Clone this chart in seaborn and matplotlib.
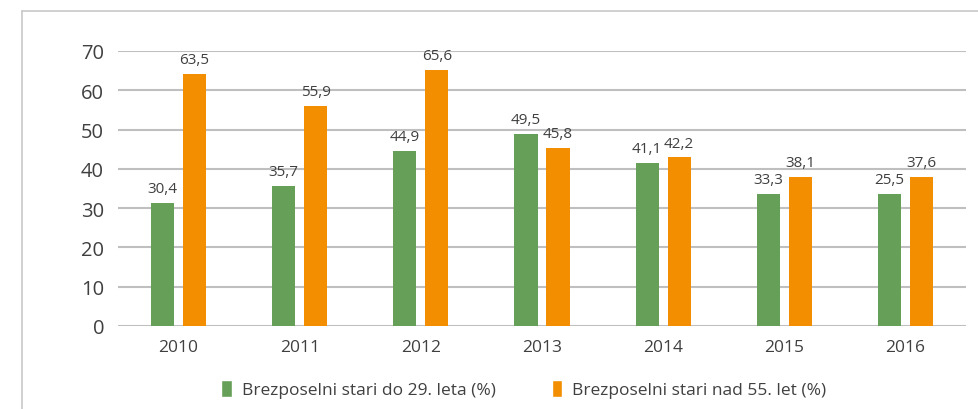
#!/usr/bin/env python3
"""
Unemployment share bar chart - young (<=29) vs older (>55) unemployed, 2010-2016.
"""
import matplotlib
matplotlib.use('Agg')

import matplotlib.pyplot as plt
import pandas as pd
import seaborn as sns
from matplotlib.lines import Line2D
from matplotlib.patches import Patch

# Data
years = ['2010', '2011', '2012', '2013', '2014', '2015', '2016']
series_names = ['Brezposelni stari do 29. leta (%)', 'Brezposelni stari nad 55. let (%)']

# bar heights as drawn
young_heights = [31.2, 35.6, 44.5, 49.0, 41.4, 33.5, 33.5]
old_heights = [64.1, 55.9, 65.1, 45.2, 42.9, 37.9, 37.9]

# value labels as printed above the bars
young_labels = ['30,4', '35,7', '44,9', '49,5', '41,1', '33,3', '25,5']
old_labels = ['63,5', '55,9', '65,6', '45,8', '42,2', '38,1', '37,6']

GREEN = '#659F58'
ORANGE = '#F28E00'
TEXT = '#404040'
GRID = '#BFBFBF'


def build_frame() -> pd.DataFrame:
    """Long format table for seaborn."""
    df = pd.DataFrame({
        'Leto': years * 2,
        'Vrednost': young_heights + old_heights,
        'Skupina': [series_names[0]] * len(years) + [series_names[1]] * len(years),
    })
    return df


def main():
    df = build_frame()

    sns.set_style('white')
    plt.rcParams['font.family'] = ['Open Sans', 'DejaVu Sans']

    fig = plt.figure(figsize=(9.79, 4.10), dpi=100)
    ax = fig.add_axes([118 / 979, 1 - 327 / 410, (966 - 118) / 979, (327 - 52) / 410])

    sns.barplot(
        data=df, x='Leto', y='Vrednost', hue='Skupina',
        palette=[GREEN, ORANGE], width=0.53, gap=0.28,
        saturation=1, ax=ax, legend=False, zorder=3, linewidth=0,
    )

    # value labels above each bar
    for container, labels in zip(ax.containers, [young_labels, old_labels]):
        for bar, lab in zip(container, labels):
            ax.annotate(
                lab,
                xy=(bar.get_x() + bar.get_width() / 2, bar.get_height()),
                xytext=(0, 5), textcoords='offset points',
                ha='center', va='bottom', fontsize=11, color=TEXT,
            )

    # axes formatting
    ax.set_ylim(0, 70)
    ax.set_yticks(range(0, 71, 10))
    ax.set_xlim(-0.5, len(years) - 0.5)
    ax.yaxis.grid(True, color=GRID, linewidth=1.5)
    ax.set_axisbelow(True)
    for side in ['top', 'right', 'left', 'bottom']:
        ax.spines[side].set_visible(False)
    ax.set_xlabel('')
    ax.set_ylabel('')
    ax.tick_params(axis='y', labelsize=14.5, labelcolor=TEXT, length=0, pad=10)
    ax.tick_params(axis='x', labelsize=12.5, labelcolor=TEXT, length=0, pad=9)

    # legend below the chart
    handles = [Patch(facecolor=GREEN, label=series_names[0]),
               Patch(facecolor=ORANGE, label=series_names[1])]
    fig.legend(
        handles=handles, loc='center', bbox_to_anchor=(524 / 979, 1 - 390 / 410),
        ncol=2, frameon=False, fontsize=12.5, handlelength=0.6, handleheight=1.1,
        handletextpad=0.6, columnspacing=3.2, labelcolor=TEXT,
    )

    # outer frame lines (top and left) of the original chart box
    fig.add_artist(Line2D([22 / 979, 1.0], [1 - 12 / 410, 1 - 12 / 410],
                          transform=fig.transFigure, color='#C8C8C8', linewidth=1.2))
    fig.add_artist(Line2D([22 / 979, 22 / 979], [0, 1 - 12 / 410],
                          transform=fig.transFigure, color='#C8C8C8', linewidth=1.2))

    fig.savefig('out.png', dpi=100)
    plt.close(fig)


if __name__ == '__main__':
    main()
